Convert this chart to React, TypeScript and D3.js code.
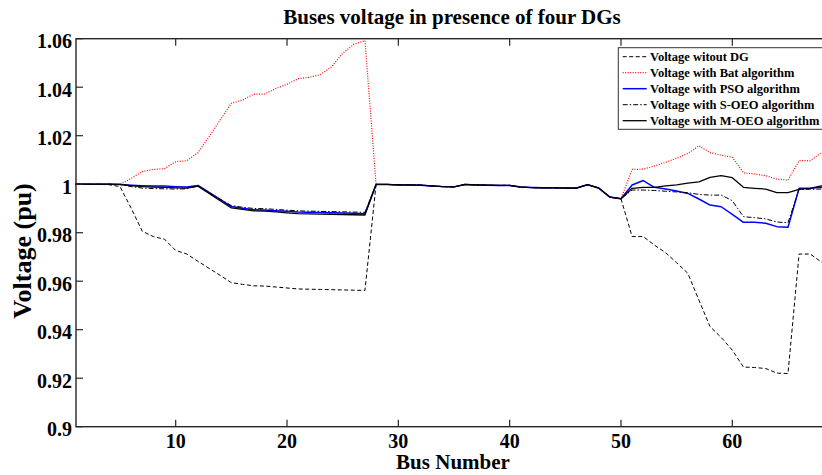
import React from "react";
import * as d3 from "d3";

const width = 822;
const height = 475;
const plot = { left: 76, right: 832.5, top: 38.7, bottom: 426.7 };
const font = "'Liberation Serif', 'Times New Roman', serif";

// bus numbers of the 69-bus feeder
const buses = d3.range(1, 70);

const noDG = [
  1.0, 1.0, 0.9999, 0.9998, 0.999, 0.9901, 0.9806, 0.9784, 0.9773, 0.9727,
  0.9712, 0.9682, 0.9653, 0.9624, 0.9594, 0.9587, 0.9581, 0.958, 0.9576, 0.9572,
  0.9568, 0.9567, 0.9566, 0.9565, 0.9564, 0.9563, 0.9562, 0.9999, 0.9999, 0.9997,
  0.9997, 0.9996, 0.9993, 0.999, 0.9989, 0.9999, 0.9997, 0.9996, 0.9995, 0.9995,
  0.9988, 0.9986, 0.9985, 0.9985, 0.9984, 0.9984, 0.9998, 0.9984, 0.9947, 0.994,
  0.9784, 0.9784, 0.9749, 0.9718, 0.9676, 0.9633, 0.9522, 0.9413, 0.9368, 0.9316,
  0.9246, 0.9244, 0.924, 0.9221, 0.9219, 0.9712, 0.9712, 0.9679, 0.9679,
];

const bat = [
  1.0, 1.0, 0.9999, 0.9999, 0.9999, 1.0024, 1.0052, 1.0061, 1.0064, 1.0093,
  1.0097, 1.013, 1.0196, 1.0265, 1.0334, 1.0347, 1.0371, 1.0372, 1.0395, 1.0412,
  1.0435, 1.0441, 1.0452, 1.0484, 1.054, 1.0577, 1.0592, 0.9999, 0.9999, 0.9997,
  0.9997, 0.9996, 0.9993, 0.999, 0.9989, 0.9999, 0.9997, 0.9996, 0.9995, 0.9995,
  0.9988, 0.9986, 0.9985, 0.9985, 0.9984, 0.9984, 0.9998, 0.9984, 0.9947, 0.994,
  1.0061, 1.0062, 1.0075, 1.009, 1.0107, 1.0127, 1.0158, 1.013, 1.012, 1.0111,
  1.0047, 1.0042, 1.0035, 1.0021, 1.0017, 1.0097, 1.0097, 1.013, 1.014,
];

const pso = [
  1.0, 1.0, 1.0, 1.0, 0.9999, 0.9996, 0.9994, 0.9993, 0.9993, 0.999,
  0.9988, 0.9995, 0.9966, 0.9937, 0.9908, 0.9901, 0.9895, 0.9894, 0.9891, 0.9888,
  0.9885, 0.9884, 0.9883, 0.9882, 0.9881, 0.988, 0.9878, 0.9999, 0.9999, 0.9997,
  0.9997, 0.9996, 0.9993, 0.999, 0.9989, 0.9999, 0.9997, 0.9996, 0.9995, 0.9995,
  0.9988, 0.9986, 0.9985, 0.9985, 0.9984, 0.9984, 0.9998, 0.9984, 0.9947, 0.994,
  0.9997, 1.0015, 0.9987, 0.998, 0.9972, 0.9962, 0.9939, 0.9914, 0.9907, 0.9876,
  0.9843, 0.9843, 0.9839, 0.9825, 0.9822, 0.9983, 0.9983, 0.9987, 0.999,
];

const sOEO = [
  1.0, 1.0, 1.0, 1.0, 0.9999, 0.999, 0.9984, 0.9982, 0.9981, 0.998,
  0.9981, 0.9993, 0.9965, 0.9938, 0.9912, 0.9905, 0.99, 0.9899, 0.9896, 0.9893,
  0.989, 0.9889, 0.9888, 0.9887, 0.9886, 0.9885, 0.9884, 0.9999, 0.9999, 0.9997,
  0.9997, 0.9996, 0.9993, 0.999, 0.9989, 0.9999, 0.9997, 0.9996, 0.9995, 0.9995,
  0.9988, 0.9986, 0.9985, 0.9985, 0.9984, 0.9984, 0.9998, 0.9984, 0.9947, 0.994,
  0.9976, 0.9976, 0.9974, 0.9971, 0.9968, 0.9965, 0.9958, 0.9955, 0.9955, 0.9932,
  0.9866, 0.9862, 0.9857, 0.9844, 0.9841, 0.9979, 0.9979, 0.998, 0.9982,
];

const mOEO = [
  1.0, 1.0, 1.0, 1.0, 0.9999, 0.9994, 0.999, 0.9988, 0.9987, 0.9985,
  0.9984, 0.9992, 0.9962, 0.9932, 0.9902, 0.9896, 0.989, 0.9889, 0.9886, 0.9882,
  0.9879, 0.9878, 0.9877, 0.9876, 0.9875, 0.9874, 0.9873, 0.9999, 0.9999, 0.9997,
  0.9997, 0.9996, 0.9993, 0.999, 0.9989, 0.9999, 0.9997, 0.9996, 0.9995, 0.9995,
  0.9988, 0.9986, 0.9985, 0.9985, 0.9984, 0.9984, 0.9998, 0.9984, 0.9947, 0.994,
  0.9983, 0.9987, 0.9987, 0.9993, 0.9997, 1.0004, 1.001, 1.0028, 1.0035, 1.0027,
  0.9987, 0.9983, 0.998, 0.9965, 0.9965, 0.9979, 0.9983, 0.9993, 0.9996,
];

const seriesNames = [
  "Voltage witout DG",
  "Voltage with Bat algorithm",
  "Voltage with PSO algorithm",
  "Voltage with S-OEO algorithm",
  "Voltage with M-OEO algorithm",
];

const xTicks = [10, 20, 30, 40, 50, 60];
const yTicks = [0.9, 0.92, 0.94, 0.96, 0.98, 1, 1.02, 1.04, 1.06];

const series = [
  { name: seriesNames[0], values: noDG, color: "#000", dash: "4,2.5", w: 1 },
  { name: seriesNames[1], values: bat, color: "#ff0000", dash: "1,1.5", w: 1.2 },
  { name: seriesNames[2], values: pso, color: "#0000ff", dash: null, w: 1.5 },
  { name: seriesNames[3], values: sOEO, color: "#000", dash: "5,2,1.5,2", w: 1 },
  { name: seriesNames[4], values: mOEO, color: "#000", dash: null, w: 1.3 },
];

export default function App() {
  const x = d3.scaleLinear().domain([1, 69]).range([75.5, 832.5]);
  const y = d3.scaleLinear().domain([0.9, 1.06]).range([plot.bottom, plot.top]);
  const line = d3
    .line<number>()
    .x((_, i) => x(buses[i]))
    .y((d) => y(d));

  const legend = { x: 618.3, y: 47.7, w: 230, h: 81.6, row: 16 };

  return (
    <svg
      width={width}
      height={height}
      style={{ position: "absolute", left: 0, top: 0, background: "#fff" }}
      fontFamily={font}
      fontWeight="bold"
    >
      <rect x={0} y={0} width={width} height={height} fill="#fff" />
      <text x={452} y={24} fontSize={21} textAnchor="middle">
        Buses voltage in presence of four DGs
      </text>

      {series.map((s) => (
        <path
          key={s.name}
          d={line(s.values) || ""}
          fill="none"
          stroke={s.color}
          strokeWidth={s.w}
          strokeDasharray={s.dash || undefined}
          strokeLinejoin="round"
        />
      ))}

      {/* axes box */}
      <rect
        x={plot.left}
        y={plot.top}
        width={plot.right - plot.left}
        height={plot.bottom - plot.top}
        fill="none"
        stroke="#262626"
        strokeWidth={1.4}
      />
      {xTicks.map((t) => (
        <g key={t}>
          <line x1={x(t)} x2={x(t)} y1={plot.bottom} y2={plot.bottom - 7} stroke="#262626" strokeWidth={1.2} />
          <line x1={x(t)} x2={x(t)} y1={plot.top} y2={plot.top + 7} stroke="#262626" strokeWidth={1.2} />
          <text x={x(t)} y={448} fontSize={20} textAnchor="middle">
            {t}
          </text>
        </g>
      ))}
      {yTicks.map((t) => (
        <g key={t}>
          <line x1={plot.left} x2={plot.left + 7} y1={y(t)} y2={y(t)} stroke="#262626" strokeWidth={1.2} />
          <text x={72} y={y(t) + 9.6} fontSize={20} textAnchor="end">
            {String(t)}
          </text>
        </g>
      ))}

      <text x={453} y={469} fontSize={21} textAnchor="middle">
        Bus Number
      </text>
      <text
        transform={`translate(31,251) rotate(-90)`}
        fontSize={26}
        textAnchor="middle"
      >
        Voltage (pu)
      </text>

      {/* legend */}
      <rect
        x={legend.x}
        y={legend.y}
        width={legend.w}
        height={legend.h}
        fill="#fff"
        stroke="#333"
        strokeWidth={1}
      />
      {series.map((s, i) => {
        const cy = legend.y + 9 + i * legend.row;
        return (
          <g key={s.name}>
            <line
              x1={622.7}
              x2={646.7}
              y1={cy}
              y2={cy}
              stroke={s.color}
              strokeWidth={s.w}
              strokeDasharray={s.dash || undefined}
            />
            <text x={650} y={cy + 4.2} fontSize={12.5}>
              {s.name}
            </text>
          </g>
        );
      })}
    </svg>
  );
}
